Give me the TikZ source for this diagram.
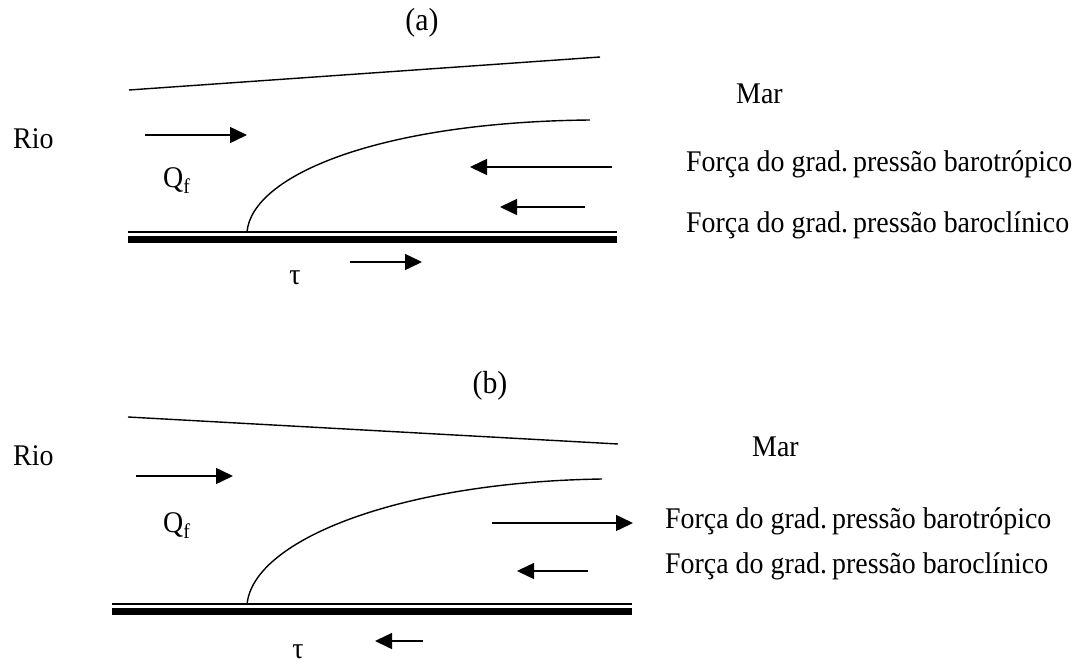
\documentclass[tikz,border=0pt]{standalone}
\usepackage{fontspec}
\setmainfont{Liberation Serif}[FakeStretch=0.93]
\usetikzlibrary{arrows.meta}
\begin{document}
\begin{tikzpicture}[x=1pt,y=-1pt,
  lbl/.style={inner sep=0pt, anchor=base west, font=\fontsize{30}{34}\selectfont},
  ctr/.style={inner sep=0pt, anchor=center, font=\fontsize{30}{34}\selectfont},
  ttl/.style={inner sep=0pt, anchor=center, font=\fontsize{32}{36}\selectfont},
  ln/.style={line width=1.4pt},
  thick line/.style={line width=7pt},
  arr/.style={line width=1.5pt, -{Triangle[length=17pt,width=16pt]}},
]
\useasboundingbox (0,0) rectangle (1080,664);
% ---------- panel (a) ----------
\node[ttl] (ta) at (422,23) {(a)};
\draw[ln] (129,90) -- (600,57);
\node[lbl] (rioa) at (13,148) {Rio};
\node[lbl] (qfa) at (163,187) {Q\textsubscript{f}};
\node[lbl] (mara) at (736,103) {Mar};
\node[lbl] (btra) at (686,171) {Força do grad.\,pressão barotrópico};
\node[lbl] (bcla) at (686,232) {Força do grad.\,pressão baroclínico};
\node[ctr] (taua) at (295,278) {τ};
\draw[arr] (145,135) -- (247,135);
\draw[arr] (612,167) -- (470,167);
\draw[arr] (585,207) -- (500,207);
\draw[arr] (350,262) -- (422,262);
\draw[ln] (247,232) .. controls (252,175) and (380,122) .. (590,120);
\draw[ln] (128,232) -- (617,232);
\draw[thick line] (128,239) -- (617,239);
% ---------- panel (b) ----------
\node[ttl] (tb) at (490,386) {(b)};
\draw[ln] (128,417) -- (618,444);
\node[lbl] (riob) at (13,465) {Rio};
\node[lbl] (qfb) at (163,532) {Q\textsubscript{f}};
\node[lbl] (marb) at (752,456) {Mar};
\node[lbl] (btrb) at (665,528) {Força do grad.\,pressão barotrópico};
\node[lbl] (bclb) at (665,573) {Força do grad.\,pressão baroclínico};
\node[ctr] (taub) at (298,652) {τ};
\draw[arr] (136,476) -- (233,476);
\draw[arr] (492,523) -- (633,523);
\draw[arr] (588,571) -- (517,571);
\draw[arr] (423,641) -- (375,641);
\draw[ln] (247,605) .. controls (252,540) and (400,482) .. (602,479);
\draw[ln] (112,604) -- (632,604);
\draw[thick line] (112,611) -- (632,611);
\end{tikzpicture}
\end{document}
